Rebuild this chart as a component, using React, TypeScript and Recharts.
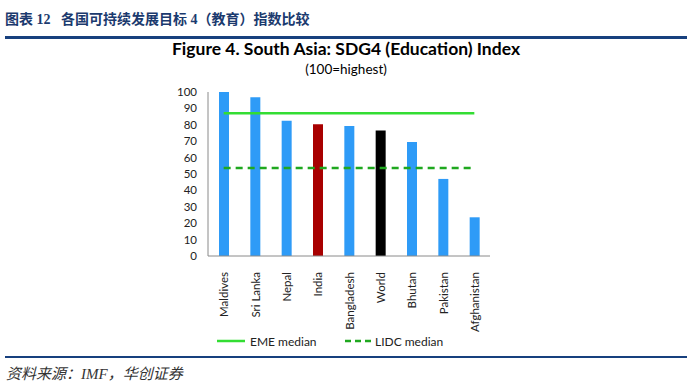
import { ComposedChart, Bar, Line, XAxis, YAxis, Cell } from 'recharts';

const countries = ['Maldives', 'Sri Lanka', 'Nepal', 'India', 'Bangladesh', 'World', 'Bhutan', 'Pakistan', 'Afghanistan'];
const sdg4Index = [100, 96.8, 82.5, 80.3, 79.2, 76.6, 69.5, 47, 23.6];
const emeMedian = 87;
const lidcMedian = 53.6;
const yTicks = [0, 10, 20, 30, 40, 50, 60, 70, 80, 90, 100];

const barColors: Record<string, string> = { India: '#A80000', World: '#000000' };
const defaultBar = '#2E9BF7';
const font = "Lato, 'Open Sans', sans-serif";

const data = countries.map((c, i) => ({
    country: c,
    value: sdg4Index[i],
    eme: emeMedian,
    lidc: lidcMedian,
}));

const XTick = (props: any) => {
    const { x, y, payload } = props;
    return (
        <text
            x={x}
            y={y}
            transform={`rotate(-90, ${x}, ${y})`}
            textAnchor="end"
            dominantBaseline="central"
            fontSize={11.5}
            fill="#222"
            fontFamily={font}
        >
            {payload.value}
        </text>
    );
};

export default function App() {
    return (
        <div style={{ position: 'relative', width: 692, height: 388, background: '#fff', overflow: 'hidden' }}>
            <style>{`body{margin:0}`}</style>
            <div
                style={{
                    position: 'absolute',
                    left: 5,
                    top: 8,
                    fontFamily: "'Liberation Serif', 'Noto Sans CJK SC', serif",
                    fontWeight: 700,
                    fontSize: 14,
                    color: '#1B3A6E',
                    whiteSpace: 'pre',
                }}
            >
                图表 12   各国可持续发展目标 4（教育）指数比较
            </div>
            <div style={{ position: 'absolute', left: 5, right: 5, top: 36, height: 3, background: '#17407E' }} />
            <div
                style={{
                    position: 'absolute',
                    left: 0,
                    width: 692,
                    top: 38,
                    textAlign: 'center',
                    fontFamily: font,
                    fontWeight: 700,
                    fontSize: 17.5,
                    color: '#000',
                }}
            >
                Figure 4. South Asia: SDG4 (Education) Index
            </div>
            <div
                style={{
                    position: 'absolute',
                    left: 0,
                    width: 692,
                    top: 61,
                    textAlign: 'center',
                    fontFamily: font,
                    fontSize: 13.5,
                    color: '#000',
                }}
            >
                (100=highest)
            </div>

            <div style={{ position: 'absolute', left: 0, top: 0 }}>
                <ComposedChart
                    width={692}
                    height={388}
                    data={data}
                    margin={{ top: 92, right: 202, bottom: 52, left: 168 }}
                >
                    <XAxis
                        dataKey="country"
                        interval={0}
                        height={80}
                        tickLine={false}
                        axisLine={{ stroke: '#8a8a8a' }}
                        tick={<XTick />}
                        tickMargin={10}
                    />
                    <XAxis xAxisId="top" orientation="top" dataKey="country" height={0} tick={false} tickLine={false} axisLine={{ stroke: '#8a8a8a' }} />
                    <YAxis
                        domain={[0, 100]}
                        ticks={yTicks}
                        width={40}
                        tickLine={false}
                        axisLine={{ stroke: '#8a8a8a' }}
                        tick={{ fontSize: 11.5, fill: '#222', fontFamily: font }}
                        tickMargin={5}
                        interval={0}
                    />
                    <YAxis yAxisId="right" orientation="right" domain={[0, 100]} width={0} tick={false} tickLine={false} axisLine={{ stroke: '#8a8a8a' }} />
                    <Bar dataKey="value" barSize={10} isAnimationActive={false}>
                        {data.map((d) => (
                            <Cell key={d.country} fill={barColors[d.country] ?? defaultBar} />
                        ))}
                    </Bar>
                    <Line dataKey="eme" stroke="#33DD33" strokeWidth={2.5} dot={false} isAnimationActive={false} />
                    <Line dataKey="lidc" stroke="#1FA81F" strokeWidth={2.5} strokeDasharray="7 5" dot={false} isAnimationActive={false} />
                </ComposedChart>
            </div>

            <svg style={{ position: 'absolute', left: 0, top: 0 }} width={692} height={388}>
                <line x1={217} x2={245} y1={341} y2={341} stroke="#33DD33" strokeWidth={2.5} />
                <text x={250} y={341} dominantBaseline="central" fontSize={12} fill="#222" fontFamily={font}>
                    EME median
                </text>
                <line x1={345} x2={371} y1={341} y2={341} stroke="#1FA81F" strokeWidth={2.5} strokeDasharray="6 4" />
                <text x={375} y={341} dominantBaseline="central" fontSize={12} fill="#222" fontFamily={font}>
                    LIDC median
                </text>
            </svg>

            <div style={{ position: 'absolute', left: 5, right: 5, top: 356, height: 2, background: '#17407E' }} />
            <div
                style={{
                    position: 'absolute',
                    left: 6,
                    top: 362,
                    fontFamily: "'Liberation Serif', 'Noto Sans CJK SC', serif",
                    fontStyle: 'italic',
                    fontSize: 15,
                    color: '#333',
                }}
            >
                资料来源：IMF，华创证券
            </div>
        </div>
    );
}
